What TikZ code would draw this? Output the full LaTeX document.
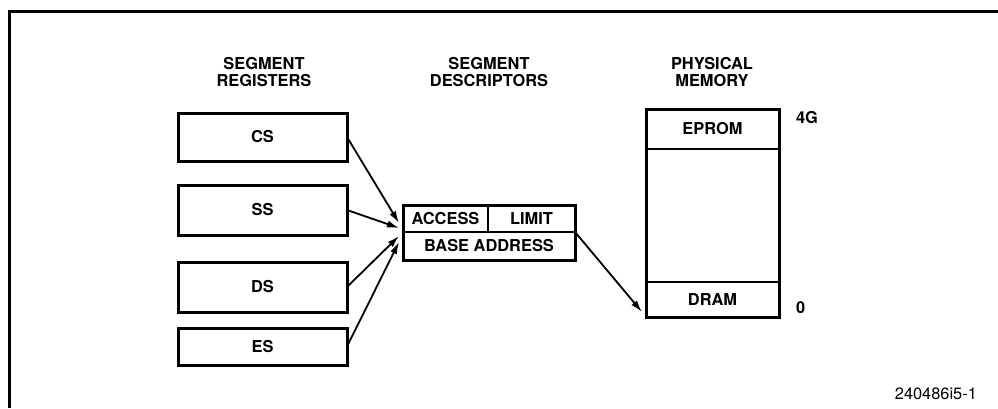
\documentclass[tikz,border=0pt]{standalone}
\usepackage{fontspec}
\setmainfont{TeX Gyre Heros}
\usetikzlibrary{positioning,arrows.meta}

\begin{document}
\begin{tikzpicture}[
			x=0.5pt, y=-0.5pt,
			font=\fontsize{8.2}{8.6}\selectfont\bfseries,
			reg/.style = {draw, line width=1.5pt, minimum width=84.5pt, inner sep=0pt, outer sep=0pt},
			cell/.style = {draw, line width=0.7pt, inner sep=0pt, outer sep=0pt},
			title/.style = {align=center},
			arr/.style = {line width=0.9pt, -{Latex[length=6pt,width=3.6pt]}}
		]
		\useasboundingbox (0,0) rectangle (998,408);
		% Frame.
		\draw[line width=1.5pt] (9,408) -- (9,11) -- (998,11);
		% Titles.
		\node[title] (t1) at (264,72) {SEGMENT\\REGISTERS};
		\node[title] (t2) at (489,72) {SEGMENT\\DESCRIPTORS};
		\node[title] (t3) at (712,72) {PHYSICAL\\MEMORY};
		% Segment registers.
		\node[reg, minimum height=24pt] (cs) at (262.5,137) {CS};
		\node[reg, minimum height=25pt] (ss) at (262.5,210) {SS};
		\node[reg, minimum height=25pt] (ds) at (262.5,287) {DS};
		\node[reg, minimum height=18.5pt] (es) at (262.5,346.5) {ES};
		% Descriptor.
		\node[cell, minimum width=42.5pt, minimum height=13.5pt] (access) at (445.5,218.5) {ACCESS};
		\node[cell, minimum width=43.5pt, minimum height=13.5pt, right=0pt of access] (limit) {LIMIT};
		\node[cell, minimum width=86pt, minimum height=14pt, below right=0pt and 0pt of access.south west, anchor=north west] (base) {BASE ADDRESS};
		\draw[line width=1.5pt] (access.north west) rectangle (base.south east);
		% Physical memory.
		\node[cell, minimum width=66.5pt, minimum height=20pt] (eprom) at (712.5,129) {EPROM};
		\node[cell, minimum width=66.5pt, minimum height=66.5pt, below=0pt of eprom] (free) {};
		\node[cell, minimum width=66.5pt, minimum height=17.5pt, below=0pt of free] (dram) {DRAM};
		\draw[line width=1.5pt] (eprom.north west) rectangle (dram.south east);
		\node[anchor=west] (top) at (eprom.north east) [yshift=-4.5pt, xshift=5pt] {4G};
		\node[anchor=west] (bot) at (dram.south east) [yshift=4.5pt, xshift=5pt] {0};
		% Caption.
		\node[anchor=east, font=\fontsize{8.2}{9}\selectfont] (fig) at (984,394) {240486i5-1};
		
		\coordinate (hub) at (399,232);
		\draw[arr] (cs.east) to ([yshift=4.5pt]hub);
		\draw[arr] (ss.east) to ([yshift=2pt]hub);
		\draw[arr] (ds.east) to ([yshift=-2pt]hub);
		\draw[arr] (es.east) to ([yshift=-5pt]hub);
		\draw[arr] (base.north east) to ([shift={(-2pt,2.5pt)}]dram.south west);
	\end{tikzpicture}
\end{document}
